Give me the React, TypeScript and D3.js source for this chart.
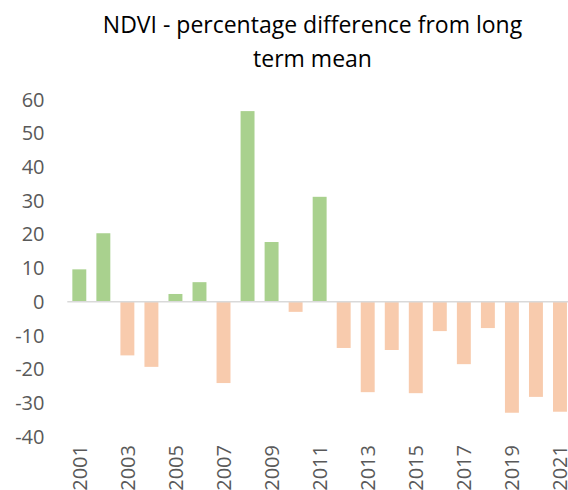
import * as d3 from 'd3'

const years = d3.range(2001, 2022).map(String)
const ndviDiff = [
  9.6, 20.3, -15.9, -19.3, 2.3, 5.8, -24.1, 56.5, 17.7, -3.0,
  31.1, -13.7, -26.8, -14.3, -27.1, -8.7, -18.5, -7.8, -32.9, -28.2, -32.6,
]
const yTicks = [60, 50, 40, 30, 20, 10, 0, -10, -20, -30, -40]
const titleLines = ['NDVI - percentage difference from long', 'term mean']

const POS = '#a9d18e'
const NEG = '#f8cbad'
const FONT = "'Open Sans', 'Liberation Sans', sans-serif"

export default function App() {
  const width = 568
  const height = 490
  const left = 67.3
  const right = 572

  const x = d3.scaleBand<string>().domain(years).range([left, right]).paddingInner(0.42).paddingOuter(0.21)
  const y = d3.scaleLinear().domain([-40, 60]).range([436.7, 99.3])

  return (
    <svg
      width={width}
      height={height}
      style={{position: 'absolute', left: 0, top: 0, background: '#fff'}}
      fontFamily={FONT}
    >
      <g textAnchor={'middle'} fill={'#000'} fontSize={23}>
        {titleLines.map((t, i) => (
          <text key={t} x={312.5} y={33 + i * 34}>{t}</text>
        ))}
      </g>

      <g textAnchor={'end'} fill={'#595959'} fontSize={20}>
        {yTicks.map(t => (
          <text key={t} x={44.5} y={y(t)} dy={'0.36em'}>{t}</text>
        ))}
      </g>

      {years.map((yr, i) => {
        const v = ndviDiff[i]
        return (
          <rect
            key={yr}
            x={x(yr)}
            width={x.bandwidth()}
            y={y(Math.max(v, 0))}
            height={Math.abs(y(v) - y(0))}
            fill={v >= 0 ? POS : NEG}
          />
        )
      })}

      <line x1={left} x2={right} y1={y(0)} y2={y(0)} stroke={'#d9d9d9'} strokeWidth={1.5} />

      <g textAnchor={'end'} fill={'#595959'} fontSize={20}>
        {years.filter((_, i) => i % 2 === 0).map(yr => {
          const cx = (x(yr) ?? 0) + x.bandwidth() / 2
          return (
            <text key={yr} transform={`translate(${cx},445) rotate(-90)`} dy={'0.36em'}>{yr}</text>
          )
        })}
      </g>
    </svg>
  )
}
